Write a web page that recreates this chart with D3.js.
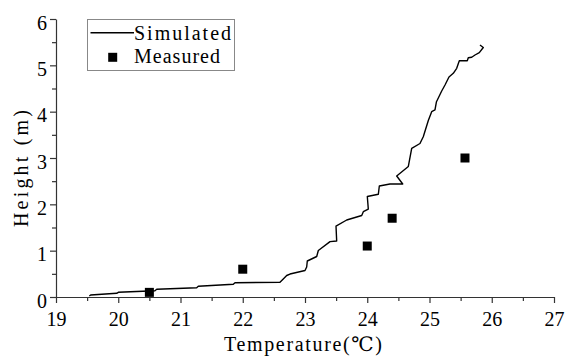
<!DOCTYPE html>
<html>
<head>
<meta charset="utf-8">
<script src="https://cdn.jsdelivr.net/npm/d3@7/dist/d3.min.js"></script>
<style>
  html, body { margin: 0; padding: 0; background: #fff; }
  svg { display: block; }
  text { font-family: "Liberation Serif", "DejaVu Serif", serif; fill: #000; }
</style>
</head>
<body>
<svg id="chart" width="565" height="356"></svg>
<script>
// Simulated temperature profile (°C) against height (m)
const simTemp = [19.535, 19.557, 19.975, 20.001, 20.59, 20.618, 21.26, 21.286, 21.848, 21.876,
  22.598, 22.651, 22.706, 22.759, 23.0, 23.027, 23.037, 23.188, 23.214, 23.402,
  23.509, 23.498, 23.67, 23.911, 23.937, 24.017, 24.001, 24.178, 24.194, 24.365,
  24.57, 24.473, 24.66, 24.714, 24.847, 24.9, 24.981, 25.035, 25.088, 25.112,
  25.196, 25.249, 25.313, 25.382, 25.437, 25.479, 25.607, 25.623, 25.678, 25.731,
  25.8, 25.864, 25.811];
const simHeight = [0.022, 0.043, 0.08, 0.101, 0.136, 0.166, 0.201, 0.231, 0.274, 0.309,
  0.317, 0.389, 0.464, 0.496, 0.572, 0.648, 0.777, 0.874, 1.004, 1.194,
  1.209, 1.532, 1.662, 1.759, 1.841, 1.899, 2.169, 2.217, 2.396, 2.439,
  2.439, 2.612, 2.817, 3.21, 3.313, 3.46, 3.81, 4.0, 4.036, 4.215,
  4.446, 4.576, 4.749, 4.828, 4.936, 5.1, 5.1, 5.163, 5.174, 5.223,
  5.273, 5.385, 5.439];

// Measured points
const measTemp = [20.5, 22.0, 24.0, 24.4, 25.57];
const measHeight = [0.1, 0.6, 1.1, 1.7, 3.0];

// Axis ticks
const xTicks = [19, 20, 21, 22, 23, 24, 25, 26, 27];
const yTicks = [0, 1, 2, 3, 4, 5, 6];
const xMinor = d3.range(19.5, 27, 1);
const yMinor = d3.range(0.5, 6, 1);

const legendLabels = ["Simulated", "Measured"];
const xTitle = "Temperature(℃)";
const yTitle = "Height (m)";

const svg = d3.select("#chart");
const plotLeft = 56, plotRight = 554, plotTop = 19, plotBottom = 297;

const x = d3.scaleLinear().domain([19, 27]).range([plotLeft, plotRight]);
const y = d3.scaleLinear().domain([0, 6]).range([plotBottom, plotTop]);

const axisColor = "#333";
const fs = 20;

// Minor ticks
const gx = svg.append("g").attr("transform", `translate(0,${plotBottom})`);
gx.call(d3.axisBottom(x).tickValues(xMinor).tickSize(4).tickFormat(""));
gx.call(g => g.select(".domain").remove());
const gy = svg.append("g").attr("transform", `translate(${plotLeft},0)`);
gy.call(d3.axisLeft(y).tickValues(yMinor).tickSize(4).tickFormat(""));
gy.call(g => g.select(".domain").remove());

// Major axes
const xAxis = svg.append("g").attr("transform", `translate(0,${plotBottom})`)
  .call(d3.axisBottom(x).tickValues(xTicks).tickSize(6).tickSizeOuter(0).tickPadding(9).tickFormat(d3.format("d")));
xAxis.selectAll("text").attr("font-size", fs).attr("font-family", "Liberation Serif");

const yAxis = svg.append("g").attr("transform", `translate(${plotLeft},0)`)
  .call(d3.axisLeft(y).tickValues(yTicks).tickSize(6).tickSizeOuter(0).tickPadding(3).tickFormat(d3.format("d")));
yAxis.selectAll("text").attr("font-size", fs).attr("font-family", "Liberation Serif").attr("dy", "0.5em");

svg.selectAll(".domain, .tick line").attr("stroke", axisColor).attr("stroke-width", 1.2);

// Simulated line
const pts = simTemp.map((t, i) => [t, simHeight[i]]);
svg.append("path")
  .datum(pts)
  .attr("fill", "none")
  .attr("stroke", "#000")
  .attr("stroke-width", 1.4)
  .attr("stroke-linejoin", "round")
  .attr("d", d3.line().x(d => x(d[0])).y(d => y(d[1])));

// Measured squares
const sq = 9;
svg.append("g").selectAll("rect")
  .data(measTemp.map((t, i) => [t, measHeight[i]]))
  .join("rect")
  .attr("x", d => x(d[0]) - sq / 2)
  .attr("y", d => y(d[1]) - sq / 2)
  .attr("width", sq)
  .attr("height", sq)
  .attr("fill", "#000");

// Axis titles
svg.append("text")
  .attr("x", 224).attr("y", 351)
  .attr("font-size", fs)
  .attr("textLength", 158).attr("lengthAdjust", "spacing")
  .text(xTitle);

svg.append("text")
  .attr("transform", "translate(28,227) rotate(-90)")
  .attr("font-size", fs)
  .attr("textLength", 117).attr("lengthAdjust", "spacing")
  .text(yTitle);

// Legend
const lg = svg.append("g");
lg.append("rect")
  .attr("x", 87.5).attr("y", 19.5).attr("width", 147).attr("height", 51)
  .attr("fill", "#fff").attr("stroke", "#888").attr("stroke-width", 1);
lg.append("line")
  .attr("x1", 90.5).attr("x2", 134).attr("y1", 32.7).attr("y2", 32.7)
  .attr("stroke", "#000").attr("stroke-width", 1.4);
lg.append("rect")
  .attr("x", 112.7 - sq / 2).attr("y", 57.3 - sq / 2).attr("width", sq).attr("height", sq)
  .attr("fill", "#000");
lg.append("text").attr("x", 134).attr("y", 40).attr("font-size", fs)
  .attr("textLength", 97).attr("lengthAdjust", "spacing").text(legendLabels[0]);
lg.append("text").attr("x", 134).attr("y", 63).attr("font-size", fs)
  .attr("textLength", 86).attr("lengthAdjust", "spacing").text(legendLabels[1]);
</script>
</body>
</html>
